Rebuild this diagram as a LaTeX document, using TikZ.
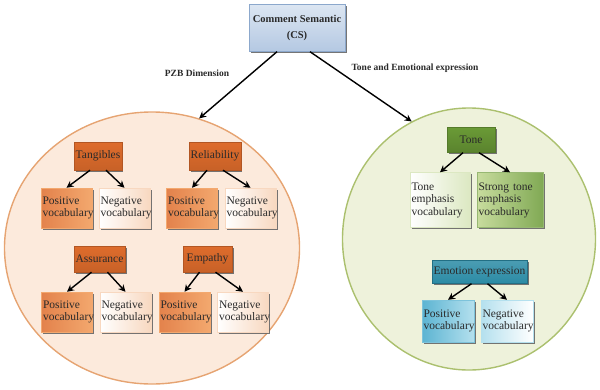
\documentclass[tikz,border=0pt]{standalone}
\usepackage{fontspec}
\setmainfont{Liberation Serif}
\usepackage{tikz}
\usetikzlibrary{arrows.meta,shapes.geometric,shadows}
\definecolor{csfill}{HTML}{DCE6F2}
\definecolor{csdark}{HTML}{B4C8E2}
\definecolor{csline}{HTML}{8CA8CC}
\definecolor{pzbfill}{HTML}{FCEADC}
\definecolor{pzbline}{HTML}{E6A472}
\definecolor{teafill}{HTML}{EEF2DB}
\definecolor{tealine}{HTML}{ABC06E}
\definecolor{orangec}{HTML}{DE6C2C}
\definecolor{orangelight}{HTML}{F3A86E}
\definecolor{peachsoft}{HTML}{F8D8C0}
\definecolor{greenc}{HTML}{6A9A36}
\definecolor{greenlight}{HTML}{C8DC9E}
\definecolor{greensoft}{HTML}{DCE8C2}
\definecolor{tealc}{HTML}{2B8BA5}
\definecolor{bluec}{HTML}{5CB4D2}
\definecolor{bluelight}{HTML}{B4E0EE}
\definecolor{inkc}{HTML}{2A2A2A}

\begin{document}
\begin{tikzpicture}[x=1pt, y=-1pt,
    shadowed/.style={drop shadow={shadow xshift=1.5pt, shadow yshift=-1.5pt, fill=black!60, opacity=0.9}},
    catbox/.style={shadowed, draw=orangec!80!black, line width=0.4pt, inner sep=1.5pt, text=inkc, font=\fontsize{11.5}{12.5}\selectfont},
    dimbox/.style={catbox, top color=orangec, bottom color=orangec!90!black},
    posbox/.style={catbox, left color=orangec!85!white, right color=orangelight, draw=orangelight, minimum width=51pt, minimum height=40pt, text width=48pt, align=left},
    negbox/.style={catbox, left color=white, right color=peachsoft, draw=peachsoft, minimum width=51pt, minimum height=40pt, text width=48pt, align=left},
    tonebox/.style={catbox, top color=greenc, bottom color=greenc!85!black, draw=greenc!80!black},
    emobox/.style={catbox, top color=tealc!85!white, bottom color=tealc, draw=tealc!80!black},
    bluepos/.style={catbox, left color=bluec, right color=bluelight, draw=bluec!80, minimum width=52pt, minimum height=42pt, text width=49pt, align=left},
    blueneg/.style={catbox, left color=bluelight, right color=white, draw=bluelight, minimum width=52pt, minimum height=42pt, text width=49pt, align=left},
    link/.style={-{Stealth[length=7pt,width=7pt]}, line width=1.4pt, black}]
    \useasboundingbox (0,0) rectangle (600,389);
    % the two dimension circles
    \node[ellipse, draw=pzbline, line width=1.4pt, fill=pzbfill, minimum width=295pt, minimum height=272pt] (pzb) at (152,248) {};
    \node[ellipse, draw=tealine, line width=1.4pt, fill=teafill, minimum width=253pt, minimum height=262pt] (tea) at (469,239) {};
    % root
    \node[shadowed, draw=csline, top color=csfill, bottom color=csdark, minimum width=96pt, minimum height=47pt, align=center, text=inkc, font=\bfseries\fontsize{10.5}{12}\selectfont] (cs) at (297,28) {Comment Semantic\\[4pt](CS)};
    \node[font=\bfseries\fontsize{9.5}{11}\selectfont, text=inkc] (pzblab) at (197,73) {PZB Dimension};
    \node[font=\bfseries\fontsize{9.5}{11}\selectfont, text=inkc] (tealab) at (415,68) {Tone and Emotional expression};
    \draw[link] ([xshift=-20pt]cs.south) -- (pzb.70);
    \draw[link] ([xshift=13pt]cs.south) -- (tea.116);
    % PZB side
    \node[dimbox, minimum width=47pt, minimum height=28pt] (tan) at (98,156) {Tangibles};
    \node[dimbox, minimum width=49pt, minimum height=28pt] (rel) at (215,156) {Reliability};
    \node[posbox] (pos1) at (66.5,208) {Positive\\vocabulary};
    \node[negbox] (neg1) at (124.5,208) {Negative\\vocabulary};
    \node[posbox] (pos2) at (192,208) {Positive\\vocabulary};
    \node[negbox] (neg2) at (250.5,208) {Negative\\vocabulary};
    \node[dimbox, minimum width=51pt, minimum height=26pt] (ass) at (99.5,259) {Assurance};
    \node[dimbox, minimum width=49pt, minimum height=26pt] (emp) at (207.5,259) {Empathy};
    \node[posbox] (pos3) at (67,312) {Positive\\vocabulary};
    \node[negbox] (neg3) at (125.5,312) {Negative\\vocabulary};
    \node[posbox] (pos4) at (184.5,312) {Positive\\vocabulary};
    \node[negbox] (neg4) at (243,312) {Negative\\vocabulary};
    \draw[link] ([xshift=-8pt]tan.south) -- (pos1.north);
    \draw[link] ([xshift=8pt]tan.south) -- (neg1.north);
    \draw[link] ([xshift=-8pt]rel.south) -- (pos2.north);
    \draw[link] ([xshift=8pt]rel.south) -- (neg2.north);
    \draw[link] ([xshift=-8pt]ass.south) -- (pos3.north);
    \draw[link] ([xshift=8pt]ass.south) -- (neg3.north);
    \draw[link] ([xshift=-8pt]emp.south) -- (pos4.north);
    \draw[link] ([xshift=8pt]emp.south) -- (neg4.north);
    % tone and emotion side
    \node[tonebox, minimum width=48pt, minimum height=25pt] (tone) at (471,140) {Tone};
    \node[catbox, left color=white, right color=greensoft, draw=greensoft, minimum width=60pt, minimum height=55pt, text width=57pt, align=left] (temph) at (440,200) {Tone\\emphasis\\vocabulary};
    \node[catbox, left color=greenlight, right color=greenc!85!white, draw=greenc!70, minimum width=66pt, minimum height=55pt, text width=63pt, align=left] (stemph) at (510,200) {Strong tone\\emphasis\\vocabulary};
    \node[emobox, minimum width=95pt, minimum height=23pt] (emo) at (479.5,272) {Emotion expression};
    \node[bluepos] (pos5) at (448,321) {Positive\\vocabulary};
    \node[blueneg] (neg5) at (507,321) {Negative\\vocabulary};
    \draw[link] ([xshift=-8pt]tone.south) -- (temph.north);
    \draw[link] ([xshift=8pt]tone.south) -- (stemph.north);
    \draw[link] ([xshift=-8pt]emo.south) -- (pos5.north);
    \draw[link] ([xshift=8pt]emo.south) -- (neg5.north);
\end{tikzpicture}
\end{document}
